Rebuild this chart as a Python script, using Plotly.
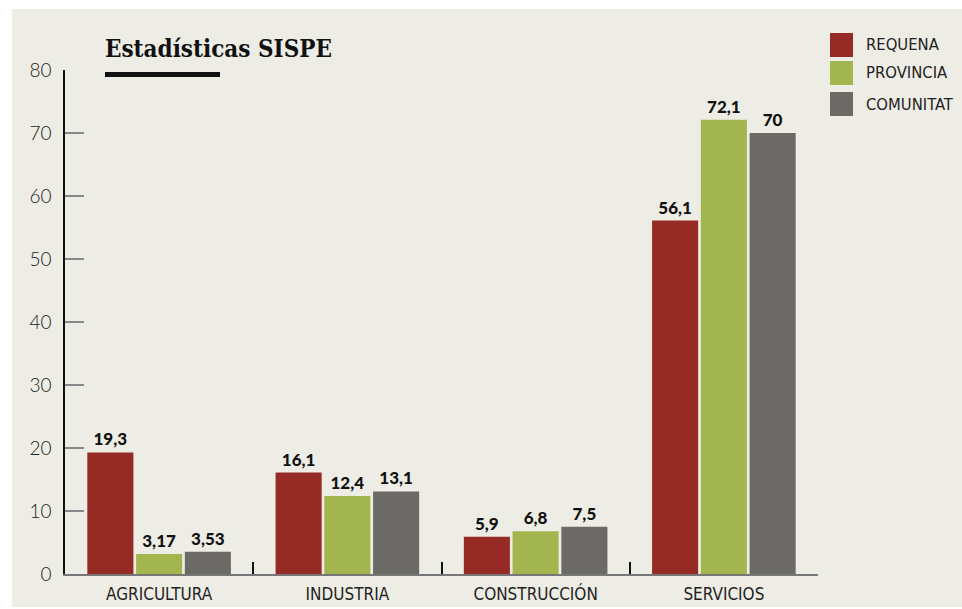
import plotly.graph_objects as go

categories = ["AGRICULTURA", "INDUSTRIA", "CONSTRUCCIÓN", "SERVICIOS"]
series_names = ["REQUENA", "PROVINCIA", "COMUNITAT"]
requena = [19.3, 16.1, 5.9, 56.1]
provincia = [3.17, 12.4, 6.8, 72.1]
comunitat = [3.53, 13.1, 7.5, 70]
requena_labels = ["19,3", "16,1", "5,9", "56,1"]
provincia_labels = ["3,17", "12,4", "6,8", "72,1"]
comunitat_labels = ["3,53", "13,1", "7,5", "70"]
y_ticks = [0, 10, 20, 30, 40, 50, 60, 70, 80]
title_text = "Estadísticas SISPE"

colors = ["#962A25", "#A3B54F", "#6B6A66"]
W, H = 962, 609
ML, MR, MT, MB = 65, 144, 70, 35
PW = W - ML - MR
PH = H - MT - MB


def px(x):
    return (x - ML) / PW


def py(y):
    return (H - MB - y) / PH


fig = go.Figure()
for name, vals, labs, col in zip(series_names, [requena, provincia, comunitat],
                                 [requena_labels, provincia_labels, comunitat_labels], colors):
    fig.add_trace(go.Bar(
        x=categories, y=vals, name=name, marker=dict(color=col, line=dict(width=0)),
        text=labs, textposition="outside", cliponaxis=False,
        textfont=dict(family="Lato", size=17, color="#111111", weight=900),
        showlegend=False, hoverinfo="skip",
    ))

shapes = [
    dict(type="rect", xref="paper", yref="paper", x0=px(12), x1=px(962), y0=py(607), y1=py(9),
         fillcolor="#EEEDE5", line=dict(width=0), layer="below"),
    dict(type="rect", xref="paper", yref="paper", x0=px(105), x1=px(220), y0=py(77), y1=py(72),
         fillcolor="#111111", line=dict(width=0)),
]
annotations = [
    dict(text="<b>" + title_text + "</b>", xref="paper", yref="paper", x=px(103), y=py(49),
         xanchor="left", yanchor="middle", showarrow=False,
         font=dict(family="DejaVu Serif Condensed, DejaVu Serif", size=24, color="#111111")),
]
leg_tops = [33, 61, 92]
for name, col, t in zip(series_names, colors, leg_tops):
    shapes.append(dict(type="rect", xref="paper", yref="paper", x0=px(830), x1=px(853),
                       y0=py(t + 24), y1=py(t), fillcolor=col, line=dict(width=0)))
    annotations.append(dict(text=name, xref="paper", yref="paper", x=px(864), y=py(t + 12),
                            xanchor="left", yanchor="middle", showarrow=False,
                            font=dict(family="Liberation Sans Narrow, DejaVu Sans Condensed",
                                      size=16.5, color="#222222")))

fig.update_layout(
    width=W, height=H, margin=dict(l=ML, r=MR, t=MT, b=MB),
    paper_bgcolor="white", plot_bgcolor="rgba(0,0,0,0)",
    barmode="group", bargap=0.223, bargroupgap=0.055,
    shapes=shapes, annotations=annotations,
    xaxis=dict(showline=True, linecolor="#777777", linewidth=2, ticks="inside",
               tickson="boundaries", ticklen=12, tickcolor="#111111", tickwidth=1.5,
               showgrid=False, zeroline=False, automargin=False,
               tickfont=dict(family="Liberation Sans Narrow, DejaVu Sans Condensed", size=17,
                             color="#222222"), ticklabelstandoff=4),
    yaxis=dict(range=[0, 80], tickvals=y_ticks, showline=True, linecolor="#111111",
               linewidth=1.5, ticks="inside", ticklen=19, tickcolor="#888888", tickwidth=2,
               showgrid=False, zeroline=False, automargin=False,
               tickfont=dict(family="Lato", size=19, color="#222222", weight=300),
               ticklabelstandoff=8),
)
fig.write_html("out.html", config={"displayModeBar": False},
               post_script="document.body.style.margin='0';document.body.style.padding='0';")
